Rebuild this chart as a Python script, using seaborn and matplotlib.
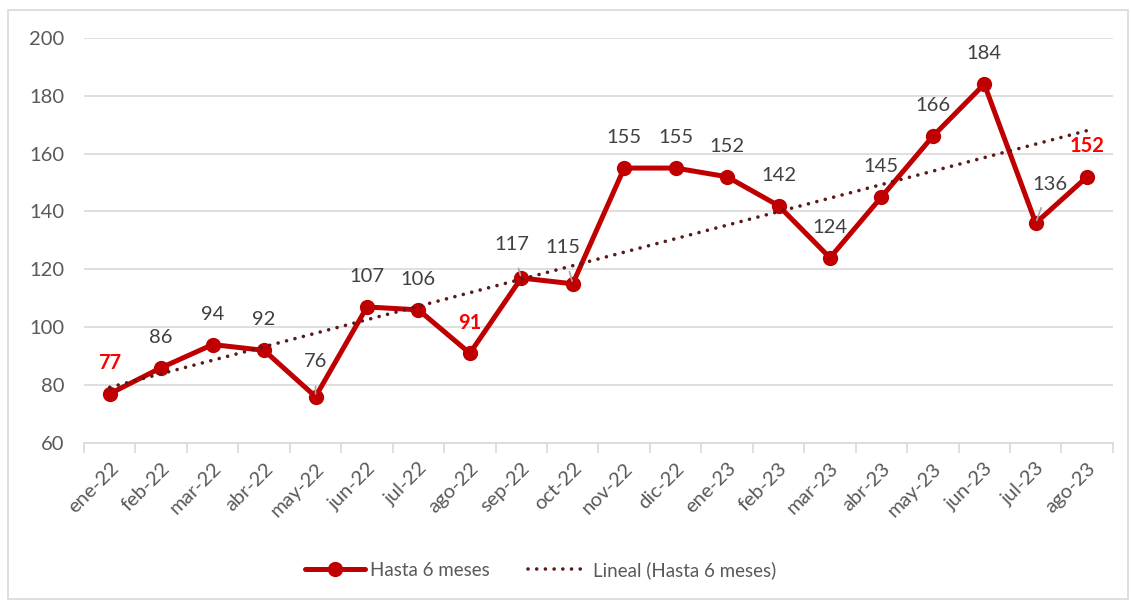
import numpy as np
import pandas as pd
import seaborn as sns
import matplotlib.pyplot as plt
from matplotlib.patches import Rectangle

# chart data
months = ["ene-22", "feb-22", "mar-22", "abr-22", "may-22", "jun-22", "jul-22",
          "ago-22", "sep-22", "oct-22", "nov-22", "dic-22", "ene-23", "feb-23",
          "mar-23", "abr-23", "may-23", "jun-23", "jul-23", "ago-23"]
values = [77, 86, 94, 92, 76, 107, 106, 91, 117, 115, 155, 155, 152, 142,
          124, 145, 166, 184, 136, 152]
highlight = ["ene-22", "ago-22", "ago-23"]
y_ticks = [60, 80, 100, 120, 140, 160, 180, 200]

series_name = "Hasta 6 meses"
trend_name = "Lineal (Hasta 6 meses)"

df = pd.DataFrame({"mes": months, "valor": values})
df["pos"] = np.arange(len(df))

sns.set_theme(style="white")
plt.rcParams["font.family"] = ["Lato", "DejaVu Sans"]

red = "#C00000"
trend_col = "#5A1A1A"
grey_txt = "#404040"
tick_txt = "#595959"
fs = 14.5

fig = plt.figure(figsize=(11.31, 6.01), dpi=100)
ax = fig.add_axes([0.0743, 0.263, 0.9097, 0.674])

# trend line (least squares, like Excel's linear trendline)
sns.regplot(data=df, x="pos", y="valor", scatter=False, ci=None, ax=ax,
            line_kws=dict(color=trend_col, lw=2.6, zorder=4))
trend = ax.lines[-1]
trend.set_dashes([0.01, 2.4])
trend.set_dash_capstyle("round")

sns.lineplot(data=df, x="pos", y="valor", ax=ax, color=red, lw=3.6,
             marker="o", markersize=11, markeredgewidth=0, zorder=3)

ax.set_xlim(-0.5, len(months) - 0.5)
ax.set_ylim(60, 200)
ax.set_yticks(y_ticks)
ax.set_yticklabels([str(v) for v in y_ticks], fontsize=fs, color=tick_txt)
ax.tick_params(axis="y", length=0, pad=14)

ax.set_xticks(df["pos"])
ax.set_xticklabels(months, rotation=45, ha="right", rotation_mode="anchor",
                   fontsize=fs, color=tick_txt)
ax.set_xticks(np.arange(-0.5, len(months), 1), minor=True)
ax.tick_params(axis="x", which="major", length=0, pad=12)
ax.tick_params(axis="x", which="minor", length=7, width=1.2, color="#D9D9D9",
               direction="out", bottom=True)

ax.grid(axis="y", color="#D9D9D9", lw=1.2)
ax.set_axisbelow(True)
for s in ["left", "right", "top"]:
    ax.spines[s].set_visible(False)
ax.spines["bottom"].set_color("#D9D9D9")
ax.spines["bottom"].set_linewidth(1.2)
ax.set_xlabel("")
ax.set_ylabel("")

# data labels: offsets in points, some with leader lines
offsets = {"may-22": (0, 25), "sep-22": (-7, 24), "oct-22": (-7, 26),
           "jul-23": (10, 28)}
leaders = {"may-22", "sep-22", "oct-22", "jul-23"}
for m, v, p in zip(months, values, df["pos"]):
    dx, dy = offsets.get(m, (0, 22))
    is_hl = m in highlight
    kw = dict(textcoords="offset points", xytext=(dx, dy), ha="center",
              va="center", fontsize=fs,
              color="#FF0000" if is_hl else grey_txt,
              fontweight="bold" if is_hl else "normal", zorder=6)
    if m in leaders:
        kw["arrowprops"] = dict(arrowstyle="-", color="#A6A6A6", lw=1.2,
                                shrinkA=9, shrinkB=2)
    ax.annotate(str(v), xy=(p, v), **kw)

# legend
handles = [ax.lines[-1], trend]
leg = fig.legend(handles, [series_name, trend_name], loc="center",
                 bbox_to_anchor=(0.478, 0.052), ncol=2, frameon=False,
                 fontsize=13.5, handlelength=3.2, handletextpad=0.3,
                 columnspacing=2.0)
for t in leg.get_texts():
    t.set_color(tick_txt)

# chart border
fig.patches.append(Rectangle((0.007, 0.004), 0.99, 0.98,
                             transform=fig.transFigure, fill=False,
                             edgecolor="#D9D9D9", lw=1.2))

fig.savefig("out.png", dpi=100)
